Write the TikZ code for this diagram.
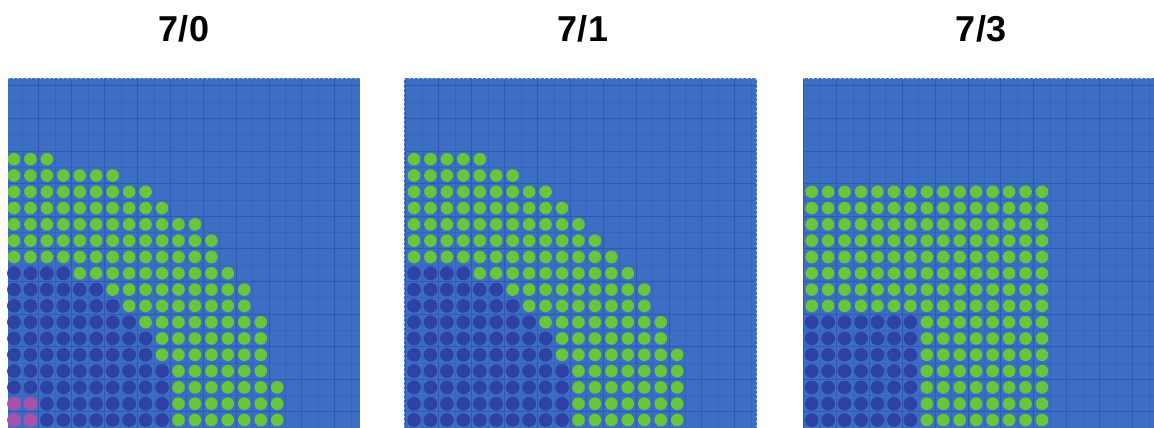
\documentclass[tikz,border=0pt]{standalone}
\usepackage{fontspec}
\setmainfont{Liberation Sans}
\definecolor{bg}{RGB}{60,110,196}
\definecolor{gridmaj}{RGB}{46,88,178}
\definecolor{gridmin}{RGB}{54,100,188}
\definecolor{gdot}{RGB}{104,198,58}
\definecolor{bdot}{RGB}{46,66,166}
\definecolor{pdot}{RGB}{166,82,170}
\tikzset{
  panelbg/.style={fill=bg,draw=none},
  majline/.style={draw=gridmaj,line width=0.9pt},
  minline/.style={draw=gridmin,line width=0.6pt},
  greendot/.style={fill=gdot},
  bluedot/.style={fill=bdot},
  pinkdot/.style={fill=pdot},
  scallop/.style={fill=white},
  ttl/.style={font=\fontsize{36}{40}\selectfont\bfseries,anchor=base}
}
\newcommand{\panelgrid}[3]{% #1 x0 of first dot, #2 left edge, #3 right edge
  \begin{scope}
    \clip (#2,0) rectangle (#3,350);
    \foreach \m in {-1,...,11}{
      \draw[minline] ({#1+16.45*(0.5+2*\m)},0) -- ++(0,350);
      \draw[minline] (#2,{8+16.3*(1.5+2*\m)}) -- (#3,{8+16.3*(1.5+2*\m)});
    }
    \foreach \m in {-1,...,11}{
      \draw[majline] ({#1+16.45*(1.5+2*\m)},0) -- ++(0,350);
      \draw[majline] (#2,{8+16.3*(0.5+2*\m)}) -- (#3,{8+16.3*(0.5+2*\m)});
    }
  \end{scope}
}
\newcommand{\dotrun}[5]{% #1 x0, #2 row, #3 from, #4 to, #5 style
  \foreach \c in {#3,...,#4}{\path[#5] ({#1+16.45*\c},{8+16.3*#2}) circle[radius=\dotrad];}
}
\newcommand{\dotrad}{6.3pt}
\begin{document}
\begin{tikzpicture}[x=1pt,y=1pt]
\useasboundingbox (0,0) rectangle (1154,428);
\fill[white] (0,0) rectangle (1154,428);
% panels
\path[panelbg] (8,0) rectangle (360,350);
\path[panelbg] (404,0) rectangle (757,350);
\path[panelbg] (803,0) rectangle (1154,350);
\panelgrid{14}{8}{360}
\panelgrid{414}{404}{757}
\panelgrid{811.7}{803}{1154}
% scalloped edges
\foreach \x in {9,13.5,...,360}{\path[scallop] (\x,350.3) circle[radius=1.3pt];}
\foreach \x in {405,409.5,...,757}{\path[scallop] (\x,350.3) circle[radius=1.3pt];}
\foreach \x in {804,808.5,...,1154}{\path[scallop] (\x,350.3) circle[radius=1.3pt];}
\foreach \y in {2,6.5,...,350}{\path[scallop] (403.7,\y) circle[radius=1.2pt];\path[scallop] (757.3,\y) circle[radius=1.2pt];}
% titles
\node[ttl] (t0) at (184,386) {7/0};
\node[ttl] (t1) at (583,386) {7/1};
\node[ttl] (t3) at (981,386) {7/3};
% panel 1 : 7/0
\renewcommand{\dotrad}{6.3pt}
\foreach \r/\a/\b in {16/0/2,15/0/6,14/0/8,13/0/9,12/0/11,11/0/12,10/0/12,9/4/13,8/6/14,7/7/14,6/8/15,5/9/15,4/9/15,3/10/15,2/10/16,1/10/16,0/10/16}{\dotrun{14}{\r}{\a}{\b}{greendot}}
\renewcommand{\dotrad}{6.9pt}
\foreach \r/\a/\b in {9/0/3,8/0/5,7/0/6,6/0/7,5/0/8,4/0/8,3/0/9,2/0/9,1/2/9,0/2/9}{\dotrun{14}{\r}{\a}{\b}{bluedot}}
\foreach \r in {0,1}{\dotrun{14}{\r}{0}{1}{pinkdot}}
% panel 2 : 7/1
\renewcommand{\dotrad}{6.3pt}
\foreach \r/\a/\b in {16/0/4,15/0/6,14/0/8,13/0/9,12/0/10,11/0/11,10/0/12,9/4/13,8/6/14,7/7/14,6/8/15,5/9/15,4/9/16,3/10/16,2/10/16,1/10/16,0/10/16}{\dotrun{414}{\r}{\a}{\b}{greendot}}
\renewcommand{\dotrad}{6.9pt}
\foreach \r/\a/\b in {9/0/3,8/0/5,7/0/6,6/0/7,5/0/8,4/0/8,3/0/9,2/0/9,1/0/9,0/0/9}{\dotrun{414}{\r}{\a}{\b}{bluedot}}
% panel 3 : 7/3
\renewcommand{\dotrad}{6.3pt}
\foreach \r in {7,...,14}{\dotrun{811.7}{\r}{0}{14}{greendot}}
\foreach \r in {0,...,6}{\dotrun{811.7}{\r}{7}{14}{greendot}}
\renewcommand{\dotrad}{6.9pt}
\foreach \r in {0,...,6}{\dotrun{811.7}{\r}{0}{6}{bluedot}}
\end{tikzpicture}
\end{document}
